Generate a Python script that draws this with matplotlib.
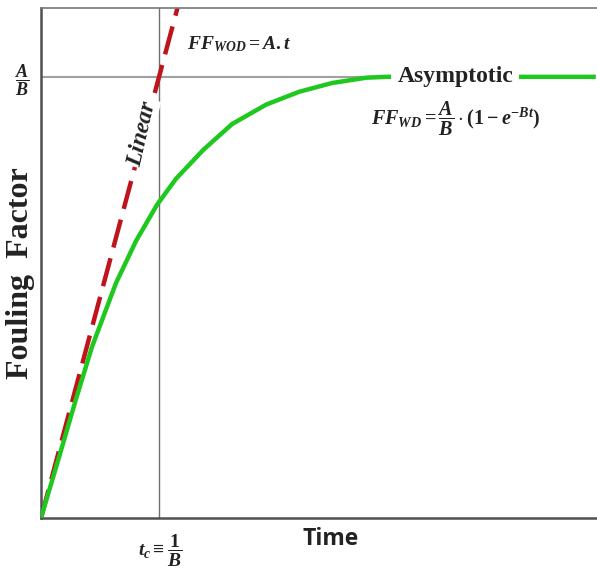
import matplotlib
matplotlib.use("Agg")
import matplotlib.pyplot as plt

# time in units of t_c = 1/B, fouling factor in units of A/B
t_green = [0.0, 0.153, 0.297, 0.432, 0.636, 0.805, 0.983, 1.144, 1.373, 1.619,
           1.907, 2.186, 2.466, 2.754, 2.924, 4.7]
ff_green = [0.0, 0.138, 0.270, 0.388, 0.533, 0.628, 0.710, 0.769, 0.834, 0.893,
            0.937, 0.966, 0.986, 0.998, 1.0, 1.0]

t_red = [0.0, 1.16]
ff_red = [0.0, 1.16]

t_c = 1.0
ff_max = 1.0

plt.rcParams['mathtext.fontset'] = 'custom'
plt.rcParams['mathtext.rm'] = 'Liberation Serif:bold'
plt.rcParams['mathtext.it'] = 'Liberation Serif:bold:italic'
plt.rcParams['mathtext.bf'] = 'Liberation Serif:bold'

fig = plt.figure(figsize=(5.97, 5.70), dpi=100)
ax = fig.add_axes([41/597, 52/570, 556/597, 510/570])

ax.set_xlim(0, 4.71)
ax.set_ylim(0, 1.156)

# guide lines
ax.axhline(ff_max, xmin=0, xmax=2.9/4.71, color='#a0a0a0', lw=1.5, zorder=1)
ax.axvline(t_c, color='#707070', lw=1.0, zorder=1)

ax.plot(t_red, ff_red, color='#c0141c', lw=3.2, dashes=(6.5, 2.5), zorder=2)
ax.plot(t_green, ff_green, color='#1ec81e', lw=3.2, zorder=3,
        solid_joinstyle='round', solid_capstyle='butt')

for s in ax.spines.values():
    s.set_color('#505050')
    s.set_linewidth(1.8)
ax.spines['top'].set_color('#777777')
ax.spines['top'].set_linewidth(1.2)
ax.spines['right'].set_visible(False)

ax.set_xticks([])
ax.set_yticks([])

col = '#222222'
ax.text(3.51, 1.0, 'Asymptotic', fontsize=17, fontweight='bold', family='Liberation Serif',
        ha='center', va='center', color=col, zorder=4,
        bbox=dict(facecolor='white', edgecolor='none', pad=4.5))
ax.text(3.51, 0.905, r'$FF_{WD}=\dfrac{A}{B}\cdot(1-e^{-Bt})$', fontsize=14.5,
        ha='center', va='center', color=col)
ax.text(1.24, 1.073, r'$FF_{WOD}=A.t$', fontsize=14, ha='left', va='center', color=col)
ax.text(0.847, 0.873, r'$Linear$', fontsize=17, rotation=77, ha='center', va='center',
        color=col, zorder=4, bbox=dict(facecolor='white', edgecolor='none', pad=0.5))

fig.text(22/597, 1 - 80/570, r'$\dfrac{A}{B}$', fontsize=13, ha='center', va='center', color=col)
fig.text(160/597, 1 - 551/570, r'$t_c\equiv\dfrac{1}{B}$', fontsize=14, ha='center', va='center', color=col)
fig.text(331/597, 1 - 539/570, 'Time', fontsize=16.5, fontweight='bold', family='Open Sans',
         ha='center', va='center', color=col)
fig.text(21/597, 1 - 273/570, 'Fouling  Factor', fontsize=23, fontweight='bold',
         family='Liberation Serif', rotation=90, ha='center', va='center', color=col)

fig.savefig('out.png', dpi=100)
